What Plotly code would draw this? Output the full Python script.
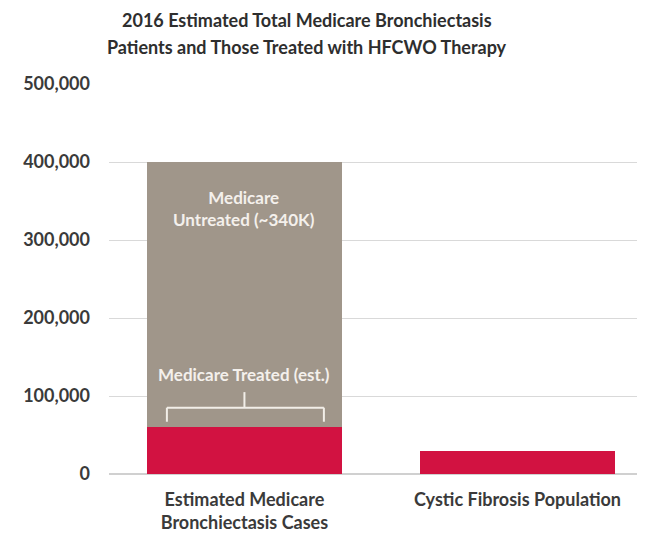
import plotly.graph_objects as go

categories = ["Estimated Medicare<br>Bronchiectasis Cases", "Cystic Fibrosis Population"]
treated = [60000, 30000]
untreated = [340000, 0]
y_ticks = [0, 100000, 200000, 300000, 400000, 500000]
y_tick_labels = ["0", "100,000", "200,000", "300,000", "400,000", "500,000"]
title_lines = ["2016 Estimated Total Medicare Bronchiectasis",
               "Patients and Those Treated with HFCWO Therapy"]

RED = "#D21241"
GRAY = "#A0968A"
TXT = "#3a3a3a"
FONT = "Lato"

fig = go.Figure()
fig.add_trace(go.Bar(x=[0, 1], y=treated, marker=dict(color=RED, line=dict(width=0)),
                     width=0.714, name="Treated"))
fig.add_trace(go.Bar(x=[0, 1], y=untreated, marker=dict(color=GRAY, line=dict(width=0)),
                     width=0.714, name="Untreated"))

fig.update_layout(
    barmode="stack",
    width=637, height=531,
    margin=dict(l=101, r=0, t=76, b=65),
    paper_bgcolor="white", plot_bgcolor="white",
    showlegend=False,
    font=dict(family=FONT, color=TXT),
    xaxis=dict(range=[-0.496, 1.467], showgrid=False, showline=False, ticks="",
               tickvals=[0, 1], ticktext=["<b>%s</b>" % c for c in categories],
               ticklabelstandoff=13,
               tickfont=dict(family=FONT, size=18, color=TXT)),
    yaxis=dict(range=[0, 500000], tickvals=y_ticks, ticktext=["<b>%s</b>" % t for t in y_tick_labels],
               showgrid=True, gridcolor="#d9d9d9", gridwidth=1, zeroline=True, zerolinecolor="#d0d0d0",
               showline=False, ticks="", ticklabelstandoff=18,
               tickfont=dict(family=FONT, size=18, color=TXT)),
)

for line, yp in zip(title_lines, [1.165, 1.095]):
    fig.add_annotation(xref="paper", yref="paper", x=0.370, y=yp, xanchor="center", yanchor="middle",
                       text="<b>%s</b>" % line, showarrow=False,
                       font=dict(family=FONT, size=18, color="#2e2e2e"))

fig.add_annotation(x=0, y=340000, text="<b>Medicare<br>Untreated (~340K)</b>", showarrow=False,
                   font=dict(family=FONT, size=17, color="#f4f0ec"), xanchor="center", yanchor="middle")
fig.add_annotation(x=0, y=127000, text="<b>Medicare Treated (est.)</b>", showarrow=False,
                   font=dict(family=FONT, size=17, color="#f4f0ec"), xanchor="center", yanchor="middle")

bc = "#f2eee8"
fig.add_shape(type="line", x0=-0.284, x1=0.291, y0=85000, y1=85000, line=dict(color=bc, width=2))
fig.add_shape(type="line", x0=-0.284, x1=-0.284, y0=85000, y1=67000, line=dict(color=bc, width=2))
fig.add_shape(type="line", x0=0.291, x1=0.291, y0=85000, y1=67000, line=dict(color=bc, width=2))
fig.add_shape(type="line", x0=0, x1=0, y0=85000, y1=105000, line=dict(color=bc, width=2))

fig.write_html("out.html")
